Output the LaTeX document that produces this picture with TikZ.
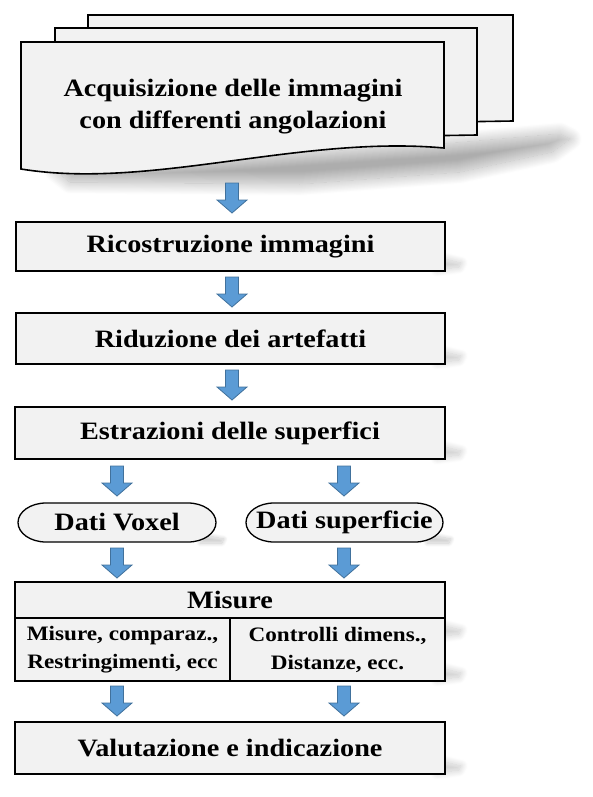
\documentclass[tikz,border=0pt]{standalone}
\usepackage{fontspec}
\setmainfont{Liberation Serif}[FakeStretch=1.13]
\usetikzlibrary{shadows.blur}
\definecolor{boxgray}{HTML}{F2F2F2}
\definecolor{arrowblue}{HTML}{5B9BD5}
\definecolor{arrowedge}{HTML}{41719C}
\newcommand{\bigtxt}{\fontsize{25}{32}\selectfont\bfseries}
\newcommand{\smalltxt}{\fontsize{20.5}{28}\selectfont\bfseries}
\tikzset{
  boxstyle/.style={draw=black, line width=1.6pt, fill=boxgray, inner sep=0pt, font=\bigtxt},
  docstyle/.style={draw=black, line width=1.6pt, fill=boxgray},
  datistyle/.style={draw=black, line width=1.3pt, fill=boxgray},
  arrowstyle/.style={draw=arrowedge, fill=arrowblue, line width=0.8pt, line join=miter},
  shade/.style={blur shadow={shadow xshift=0pt, shadow yshift=0pt, shadow blur radius=#1, shadow opacity=22, shadow blur steps=25}},
  shade/.default=7pt,
  docshade/.style={blur shadow={shadow xshift=0pt, shadow yshift=0pt, shadow blur radius=12pt, shadow opacity=32, shadow blur steps=25}}
}
\newcommand{\boxshadow}[2]{%
  \path[shade] (#1-8,#2-14) -- (#1+16,#2-8) -- (#1+14,#2-4) -- (#1-8,#2-1) -- cycle;}
\newcommand{\blockarrow}[3]{%
  \coordinate (#1) at (#2,#3);
  \draw[arrowstyle] (#2-6.5,#3-15) -- (#2+6.5,#3-15) -- (#2+6.5,#3+2) -- (#2+15,#3+2) -- (#2,#3+15)
    -- (#2-15,#3+2) -- (#2-6.5,#3+2) -- cycle;}
\begin{document}
\begin{tikzpicture}[x=1pt,y=-1pt]
\useasboundingbox (0,0) rectangle (593,797);
% shadows
\path[docshade] (55,170) -- (444,144) -- (560,134) -- (570,139) -- (552,152) -- (460,172) -- (300,184) -- (70,182) -- cycle;
\boxshadow{445}{271}
\boxshadow{445}{364}
\boxshadow{445}{459}
\boxshadow{445}{638}
\boxshadow{445}{681}
\boxshadow{445}{774}
\path[shade=4pt] (203,535) -- (224,539) -- (222,543) -- (200,543) -- cycle;
\path[shade=4pt] (430,535) -- (451,539) -- (449,543) -- (427,543) -- cycle;
% multi document
\draw[docstyle] (88,15) -- (513,15) -- (513,121) -- (88,128) -- cycle;
\draw[docstyle] (55,28) -- (477,28) -- (477,135) -- (55,142) -- cycle;
\draw[docstyle] (21,42) -- (444,42) -- (444,148) .. controls (300,135) and (150,190) .. (21,169) -- cycle;
\node[font=\bigtxt, align=center, inner sep=0pt] (doc) at (233,107) {Acquisizione delle immagini\\con differenti angolazioni};
% boxes
\node[boxstyle, minimum width=429pt, minimum height=49pt] (b1) at (230.5,246.5) {Ricostruzione immagini};
\node[boxstyle, minimum width=429pt, minimum height=51pt] (b2) at (230.5,338.5) {Riduzione dei artefatti};
\node[boxstyle, minimum width=430pt, minimum height=52pt] (b3) at (230,433) {Estrazioni delle superfici};
% Dati shapes
\draw[datistyle] (46,503) -- (188,503) arc[start angle=-90, end angle=90, x radius=28, y radius=19.5]
  -- (46,542) arc[start angle=90, end angle=270, x radius=28, y radius=19.5] -- cycle;
\node[font=\bigtxt, inner sep=0pt] (dv) at (117,522.5) {Dati Voxel};
\draw[datistyle] (274,503) -- (415,503) arc[start angle=-90, end angle=90, x radius=28, y radius=19.5]
  -- (274,542) arc[start angle=90, end angle=270, x radius=28, y radius=19.5] -- cycle;
\node[font=\bigtxt, inner sep=0pt] (ds) at (344.5,522.5) {Dati superficie};
% Misure table
\node[boxstyle, minimum width=430pt, minimum height=36pt] (mis) at (230,600) {Misure};
\node[boxstyle, font=\smalltxt, align=center, minimum width=215pt, minimum height=63pt] (misL) at (122.5,649.5) {Misure, comparaz.,\\Restringimenti, ecc};
\node[boxstyle, font=\smalltxt, align=center, minimum width=215pt, minimum height=63pt] (misR) at (337.5,649.5) {Controlli dimens.,\\Distanze, ecc.};
% final
\node[boxstyle, minimum width=430pt, minimum height=52pt] (fin) at (230,748) {Valutazione e indicazione};
% block arrows
\blockarrow{a1}{232}{198}
\blockarrow{a2}{232}{292}
\blockarrow{a3}{232}{385}
\blockarrow{a4}{117}{481}
\blockarrow{a5}{344}{481}
\blockarrow{a6}{117}{563}
\blockarrow{a7}{344}{563}
\blockarrow{a8}{117}{701}
\blockarrow{a9}{344}{701}
\end{tikzpicture}
\end{document}
